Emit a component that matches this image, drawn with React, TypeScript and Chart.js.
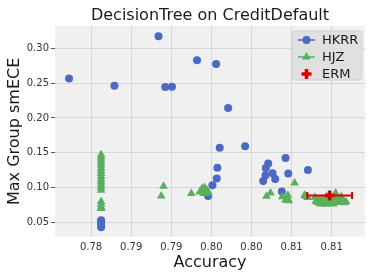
import React, { useEffect, useRef } from "react";
import { Chart, registerables } from "chart.js";

Chart.register(...registerables);

// ---------- data ----------
const hkrrX = [
  0.77725, 0.78291, 0.78841, 0.78925, 0.79009, 0.79321, 0.79559, 0.79709,
  0.79604, 0.79921, 0.79575, 0.79567, 0.79513, 0.79459,
  0.80209, 0.80179, 0.80263, 0.80175, 0.80296, 0.80146,
  0.80425, 0.80459, 0.80379, 0.80704,
  0.78125, 0.78125, 0.78125, 0.78125,
];
const hkrrY = [
  0.2566, 0.2461, 0.3171, 0.2443, 0.2447, 0.2829, 0.2776, 0.2143,
  0.1571, 0.1594, 0.1286, 0.1129, 0.1033, 0.088,
  0.1347, 0.128, 0.1204, 0.1176, 0.1123, 0.1094,
  0.1423, 0.12, 0.0943, 0.1251,
  0.053, 0.05, 0.047, 0.043,
];

const hjzX = [
  0.78125, 0.78125, 0.78125, 0.78125, 0.78125, 0.78125, 0.78125, 0.78125, 0.78125,
  0.78125, 0.78125, 0.78125, 0.78125, 0.78125, 0.78125, 0.78125, 0.78125, 0.78125,
  0.78875, 0.78904, 0.7925,
  0.79354, 0.79384, 0.79416, 0.79404, 0.79446, 0.79466, 0.794,
  0.80188, 0.80238, 0.80384, 0.80454, 0.80425, 0.80466, 0.80538,
  0.80662, 0.80704, 0.8068,
  0.808, 0.8083, 0.8086, 0.809, 0.8093, 0.8096, 0.8099, 0.8102, 0.8105, 0.8108,
  0.811, 0.8113, 0.8116, 0.8088, 0.8094, 0.81, 0.8106, 0.8112, 0.8079, 0.8084,
  0.8118, 0.8102, 0.8091,
];
const hjzY = [
  0.147, 0.144, 0.14, 0.136, 0.132, 0.128, 0.124, 0.12, 0.116,
  0.112, 0.108, 0.104, 0.1, 0.096, 0.08, 0.076, 0.072, 0.07,
  0.088, 0.1019, 0.0914,
  0.0937, 0.0986, 0.1, 0.0914, 0.0961, 0.0923, 0.095,
  0.0876, 0.0923, 0.0866, 0.089, 0.0819, 0.0809, 0.1066,
  0.089, 0.0857, 0.087,
  0.08, 0.078, 0.0765, 0.079, 0.076, 0.082, 0.0775, 0.08, 0.092, 0.0785,
  0.083, 0.08, 0.078, 0.084, 0.087, 0.086, 0.085, 0.087, 0.086, 0.0825,
  0.0795, 0.0765, 0.081,
];

const ermX = [0.80975];
const ermY = [0.0887];
const ermXErr = [0.0028];

const xTicks = [0.78, 0.785, 0.79, 0.795, 0.8, 0.805, 0.81];
const xTickLabels = ["0.78", "0.79", "0.79", "0.80", "0.80", "0.81", "0.81"];
const yTicks = [0.05, 0.1, 0.15, 0.2, 0.25, 0.3];
const yTickLabels = ["0.05", "0.10", "0.15", "0.20", "0.25", "0.30"];

const seriesNames = ["HKRR", "HJZ", "ERM"];

// ---------- styles ----------
const BLUE = "#4b69c7";
const GREEN = "#58b05a";
const RED = "#d90000";
const FONT = "'DejaVu Sans', sans-serif";

const plotBg = {
  id: "plotBg",
  beforeDraw(chart: any) {
    const { ctx, chartArea: a } = chart;
    ctx.save();
    ctx.fillStyle = "#f0f0f0";
    ctx.fillRect(a.left, a.top, a.right - a.left, a.bottom - a.top);
    ctx.restore();
  },
};

const legendBox = {
  id: "legendBox",
  afterDraw(chart: any) {
    const { ctx, chartArea: a } = chart;
    const w = 70;
    const h = 49;
    const x0 = a.right - 3 - w;
    const y0 = a.top + 5;
    ctx.save();
    ctx.beginPath();
    ctx.roundRect(x0, y0, w, h, 3);
    ctx.fillStyle = "rgba(222,222,222,0.9)";
    ctx.fill();
    ctx.strokeStyle = "#d0d0d0";
    ctx.lineWidth = 1;
    ctx.stroke();
    const colors = [BLUE, GREEN, RED];
    const lx0 = x0 + 6;
    const lx1 = x0 + 23;
    const mx = (lx0 + lx1) / 2;
    seriesNames.forEach((name, i) => {
      const y = y0 + 9 + i * 17;
      ctx.fillStyle = colors[i];
      ctx.strokeStyle = colors[i];
      if (i < 2) {
        ctx.lineWidth = 1.5;
        ctx.beginPath();
        ctx.moveTo(lx0, y);
        ctx.lineTo(lx1, y);
        ctx.stroke();
      }
      if (i === 0) {
        ctx.beginPath();
        ctx.arc(mx, y, 4, 0, Math.PI * 2);
        ctx.fill();
      } else if (i === 1) {
        const r = 5;
        ctx.beginPath();
        ctx.moveTo(mx, y - r);
        ctx.lineTo(mx + r * 0.866, y + r * 0.5);
        ctx.lineTo(mx - r * 0.866, y + r * 0.5);
        ctx.closePath();
        ctx.fill();
      } else {
        ctx.lineWidth = 3.5;
        ctx.beginPath();
        ctx.moveTo(mx - 5, y);
        ctx.lineTo(mx + 5, y);
        ctx.moveTo(mx, y - 5);
        ctx.lineTo(mx, y + 5);
        ctx.stroke();
      }
      ctx.fillStyle = "#1a1a1a";
      ctx.font = `13px ${FONT}`;
      ctx.textAlign = "left";
      ctx.textBaseline = "middle";
      ctx.fillText(name, x0 + 30, y + 0.5);
    });
    ctx.restore();
  },
};

export default function App() {
  const ref = useRef<HTMLCanvasElement | null>(null);

  useEffect(() => {
    if (!ref.current) return;
    const chart = new Chart(ref.current, {
      type: "scatter",
      data: {
        datasets: [
          {
            label: "HKRR",
            data: hkrrX.map((x, i) => ({ x, y: hkrrY[i] })),
            pointStyle: "circle",
            pointRadius: 4,
            backgroundColor: BLUE,
            borderWidth: 0,
            order: 3,
          } as any,
          {
            label: "HJZ",
            data: hjzX.map((x, i) => ({ x, y: hjzY[i] })),
            pointStyle: "triangle",
            pointRadius: 5,
            backgroundColor: GREEN,
            borderWidth: 0,
            order: 2,
          },
          {
            label: "ERM err",
            data: [
              { x: ermX[0] - ermXErr[0], y: ermY[0] },
              { x: ermX[0] + ermXErr[0], y: ermY[0] },
            ],
            showLine: true,
            borderColor: RED,
            borderWidth: 2,
            pointStyle: "line",
            pointRotation: 90,
            pointRadius: 3.5,
            pointBorderColor: RED,
            pointBorderWidth: 2,
            order: 1,
          },
          {
            label: "ERM",
            data: ermX.map((x, i) => ({ x, y: ermY[i] })),
            pointStyle: "cross",
            pointRadius: 5,
            pointBorderColor: RED,
            pointBorderWidth: 3.5,
            order: 0,
          },
        ],
      },
      options: {
        animation: false,
        responsive: false,
        devicePixelRatio: 1,
        layout: { padding: { top: 0, right: 9, left: 0, bottom: 0 } },
        plugins: {
          legend: { display: false },
          tooltip: { enabled: false },
          title: {
            display: true,
            text: "DecisionTree on CreditDefault",
            fullSize: false,
            color: "#1a1a1a",
            font: { family: FONT, size: 16, weight: "normal" },
            padding: { top: 6, bottom: 0.8 },
          },
        },
        scales: {
          x: {
            type: "linear",
            min: 0.7755,
            max: 0.81416,
            afterBuildTicks: (s: any) => {
              s.ticks = xTicks.map((v) => ({ value: v }));
            },
            afterFit: (s: any) => {
              s.height = 43.3;
            },
            ticks: {
              callback: (_v: any, i: number) => xTickLabels[i],
              color: "#333",
              font: { family: FONT, size: 10 },
              padding: 1,
              maxRotation: 0,
              autoSkip: false,
            },
            grid: {
              color: "#d6d6d6",
              tickColor: "rgba(0,0,0,0)",
              tickLength: 4,
              lineWidth: 1,
            },
            border: { display: false },
            title: {
              display: true,
              text: "Accuracy",
              color: "#1a1a1a",
              font: { family: FONT, size: 16 },
              padding: { top: 0, bottom: 7.4 },
            },
          },
          y: {
            type: "linear",
            min: 0.0294,
            max: 0.332,
            afterBuildTicks: (s: any) => {
              s.ticks = yTicks.map((v) => ({ value: v }));
            },
            afterFit: (s: any) => {
              s.width = 55;
            },
            ticks: {
              callback: (_v: any, i: number) => yTickLabels[i],
              color: "#333",
              font: { family: FONT, size: 10 },
              padding: 2,
              autoSkip: false,
            },
            grid: {
              color: "#d6d6d6",
              tickColor: "#555",
              tickLength: 4,
              lineWidth: 1,
            },
            border: { display: false },
            title: {
              display: true,
              text: "Max Group smECE",
              color: "#1a1a1a",
              font: { family: FONT, size: 16 },
              padding: { top: 5, bottom: 0 },
            },
          },
        },
      },
      plugins: [plotBg, legendBox],
    });
    return () => chart.destroy();
  }, []);

  return (
    <div style={{ position: "absolute", left: 0, top: 0, width: 374, height: 280, background: "#fff" }}>
      <canvas ref={ref} width={374} height={280} style={{ display: "block" }} />
    </div>
  );
}
